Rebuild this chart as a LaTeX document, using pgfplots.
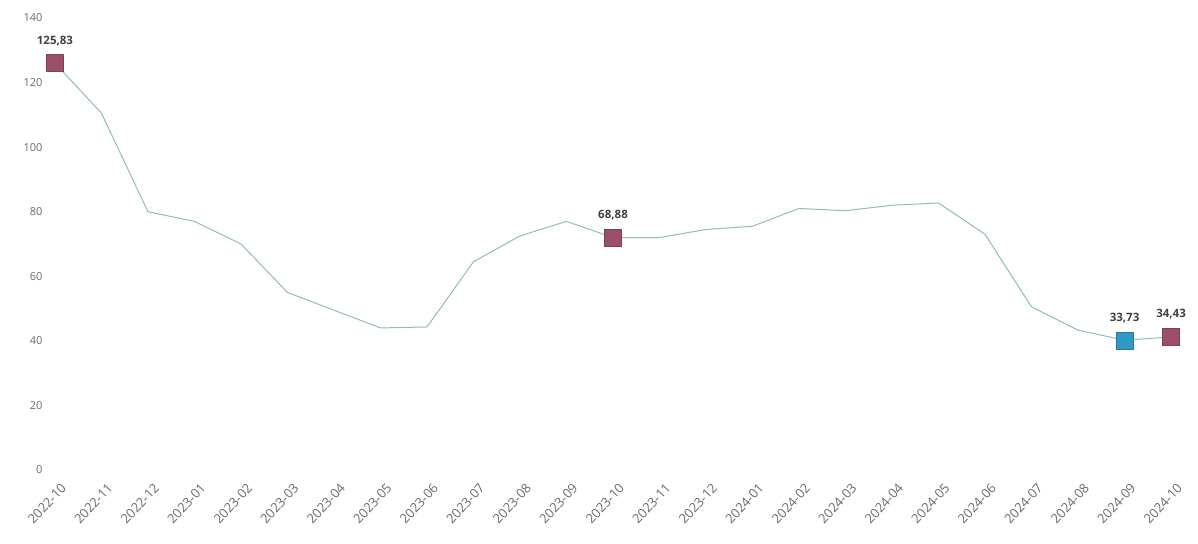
\documentclass[border=0pt]{standalone}
\usepackage{pgfplots}
\pgfplotsset{compat=1.18}
\usepackage{pgfplotstable}
\usepackage{fontspec}
\setmainfont{Open Sans}

\definecolor{linec}{HTML}{8FBCC0}
\definecolor{maroon}{HTML}{9C4F66}
\definecolor{bluem}{HTML}{2F98C4}
\definecolor{tickc}{HTML}{6A6A6A}

\pgfplotstableread{
x y
0 126.0
1 110.5
2 80.0
3 77.0
4 70.0
5 55.0
6 49.5
7 44.0
8 44.3
9 64.5
10 72.5
11 77.0
12 72.0
13 72.0
14 74.5
15 75.5
16 81.0
17 80.3
18 82.0
19 82.7
20 73.0
21 50.5
22 43.3
23 40.2
24 41.2
}\series

\pgfplotstableread{
x y lab
0 126.0 {125,83}
12 72.0 {68,88}
24 41.2 {34,43}
}\redpts

\pgfplotstableread{
x y lab
23 40.2 {33,73}
}\bluepts

\begin{document}
\begin{tikzpicture}
\begin{axis}[
  at={(0,0)}, anchor=south west,
  scale only axis,
  width=1137pt, height=452pt,
  xmin=-0.15, xmax=24.3,
  ymin=0, ymax=140,
  axis line style={draw=none},
  tick style={draw=none},
  ytick={0,20,...,140},
  xtick={0,...,24},
  xticklabels={2022-10,2022-11,2022-12,2023-01,2023-02,2023-03,2023-04,2023-05,2023-06,2023-07,2023-08,2023-09,2023-10,2023-11,2023-12,2024-01,2024-02,2024-03,2024-04,2024-05,2024-06,2024-07,2024-08,2024-09,2024-10},
  /pgf/number format/assume math mode=true,
  ticklabel style={text=tickc},
  yticklabel style={font=\fontsize{11}{13}\selectfont, xshift=-2pt},
  xticklabel style={font=\fontsize{13}{15}\selectfont, xshift=5pt, yshift=-11pt, rotate=47, anchor=north east, inner sep=1pt},
  clip=false,
  every node near coord/.append style={font=\bfseries\fontsize{11.5}{13}\selectfont, text=black!75, yshift=14pt},
]
\addplot[linec, line width=1pt, mark=none] table[x=x, y=y] {\series};
\addplot[only marks, mark=square*, mark size=8.5pt, mark options={fill=maroon, draw=maroon!80!black, line width=0.4pt},
  nodes near coords, point meta=explicit symbolic] table[x=x, y=y, meta=lab] {\redpts};
\addplot[only marks, mark=square*, mark size=8.5pt, mark options={fill=bluem, draw=bluem!80!black, line width=0.4pt},
  nodes near coords, point meta=explicit symbolic] table[x=x, y=y, meta=lab] {\bluepts};
\end{axis}
\pgfresetboundingbox
\path[use as bounding box] (-48pt,-73pt) rectangle (1150pt,470pt);
\end{tikzpicture}
\end{document}
